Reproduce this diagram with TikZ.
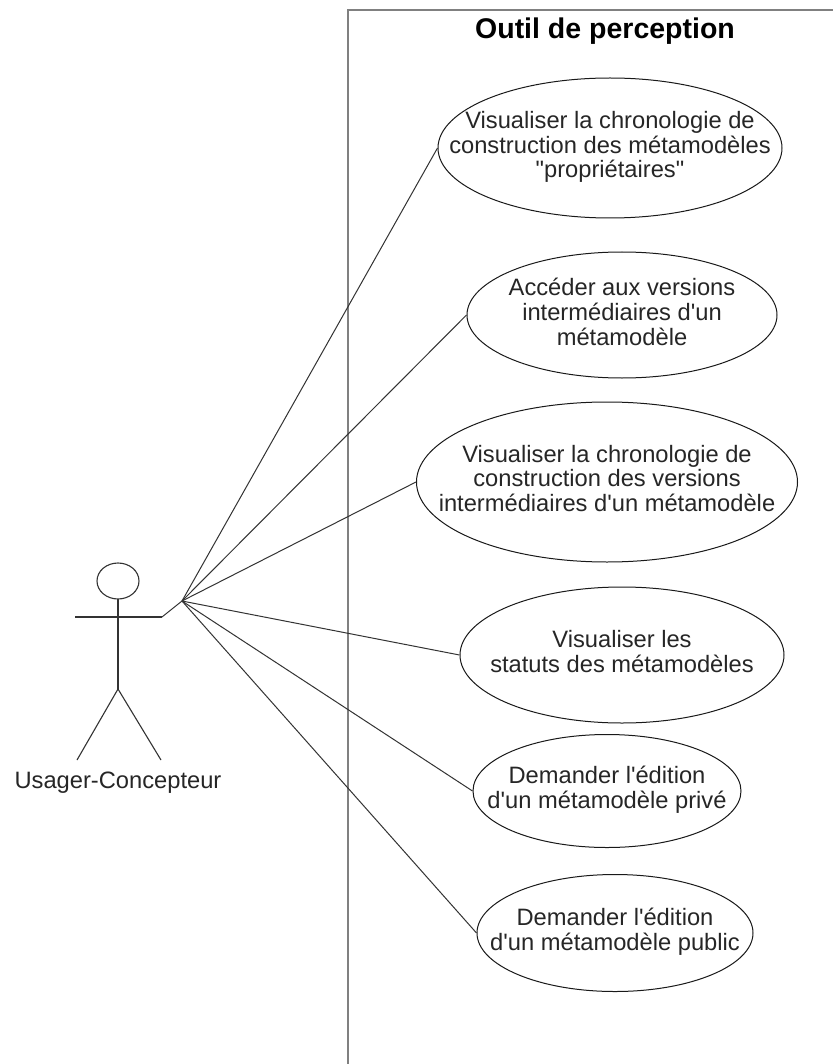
\documentclass[tikz,border=0pt]{standalone}
\usepackage{fontspec}
\setmainfont{Liberation Sans}[Ligatures=TeXOff]
\usetikzlibrary{shapes.geometric}
\newcommand\uclines[1]{\smash{\makebox[0pt]{\raisebox{-0.27em}{\begin{tabular}{@{}c@{}}#1\end{tabular}}}}}
\begin{document}
\begin{tikzpicture}[x=1pt,y=-1pt,
  usecase/.style={ellipse,draw=black!90,line width=1pt,inner sep=0pt,
    font=\fontsize{23.7}{24.5}\selectfont,text=black!85},
  assoc/.style={draw=black!80,line width=1pt},
  actorline/.style={draw=black!80,line width=1.1pt},
  boundary/.style={draw=black!50,line width=2.2pt}]
\useasboundingbox (0,0) rectangle (832,1064);
\fill[white] (0,0) rectangle (832,1064);
% system boundary
\draw[boundary] (348,1070) -- (348,10) -- (840,10);
\node[font=\bfseries\fontsize{28.5}{30}\selectfont] (title) at (605,31) {Outil de perception};
% use cases
\node[usecase,minimum width=344pt,minimum height=140pt] (e1) at (610,148)
  {\uclines{Visualiser la chronologie de\\construction des métamodèles\\"propriétaires"}};
\node[usecase,minimum width=310pt,minimum height=126pt] (e2) at (622,315)
  {\uclines{Accéder aux versions\\intermédiaires d'un\\métamodèle}};
\node[usecase,minimum width=381pt,minimum height=160pt] (e3) at (607,482)
  {\uclines{Visualiser la chronologie de\\construction des versions\\intermédiaires d'un métamodèle}};
\node[usecase,minimum width=324pt,minimum height=136pt] (e4) at (622,655)
  {\uclines{Visualiser les\\statuts des métamodèles}};
\node[usecase,minimum width=268pt,minimum height=113pt] (e5) at (607,791)
  {\uclines{Demander l'édition\\d'un métamodèle privé}};
\node[usecase,minimum width=276pt,minimum height=117pt] (e6) at (615,933)
  {\uclines{Demander l'édition\\d'un métamodèle public}};
% actor
\draw[actorline] (118,581) ellipse [x radius=21pt,y radius=18pt];
\coordinate (neck) at (118,599);
\coordinate (hip) at (118,689);
\coordinate (lhand) at (75,617);
\coordinate (hand) at (162,617);
\coordinate (lfoot) at (77,760);
\coordinate (rfoot) at (161,760);
\draw[actorline] (neck) -- (hip);
\draw[actorline] (lhand) -- (hand);
\draw[actorline] (lfoot) -- (hip) -- (rfoot);
\node[font=\fontsize{23.7}{25}\selectfont,text=black!85] (actor) at (118,783) {Usager-Concepteur};
% associations
\coordinate (hub) at (182,601);
\draw[assoc] (hand) -- (hub);
\draw[assoc] (hub) -- (e1.west);
\draw[assoc] (hub) -- (e2.west);
\draw[assoc] (hub) -- (e3.west);
\draw[assoc] (hub) -- (e4.west);
\draw[assoc] (hub) -- (e5.west);
\draw[assoc] (hub) -- (e6.west);
\end{tikzpicture}
\end{document}
